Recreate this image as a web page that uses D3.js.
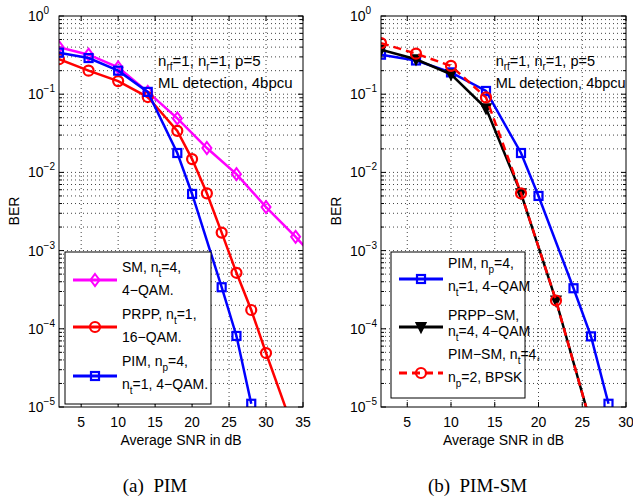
<!DOCTYPE html>
<html>
<head>
<meta charset="utf-8">
<script src="https://cdn.jsdelivr.net/npm/d3@7"></script>
<style>
body { margin: 0; background: #fff; }
text { font-family: "Liberation Sans", Arial, sans-serif; }
</style>
</head>
<body>
<svg width="633" height="500"></svg>
<script>
// ---- data ----
var snrSM = [2, 6, 10, 14, 18, 22, 26, 30, 34, 36];
var berSM = [0.40, 0.32, 0.22, 0.107, 0.049, 0.0205, 0.0095, 0.0036, 0.0015, 0.00093];

var snrPRPP = [2, 6, 10, 14, 18, 20, 22, 24, 26, 28, 30, 34];
var berPRPP = [0.28, 0.20, 0.147, 0.092, 0.034, 0.0148, 0.0054, 0.0017, 0.00052, 0.000174, 0.000049, 0.0000043];

var snrPIM = [2, 6, 10, 14, 18, 20, 24, 26, 28];
var berPIMa = [0.34, 0.29, 0.20, 0.107, 0.0177, 0.0053, 0.00034, 0.000081, 0.000011];
var berPIMb = [0.32, 0.27, 0.19, 0.11, 0.0177, 0.0050, 0.00033, 0.00008, 0.000011];

var snrSM2 = [2, 6, 10, 14, 18, 22, 26];
var berPRPPSM = [0.37, 0.28, 0.18, 0.066, 0.0054, 0.00023, 0.000006];
var berPIMSM = [0.45, 0.33, 0.23, 0.091, 0.0054, 0.00023, 0.000006];

var xTicksA = [5, 10, 15, 20, 25, 30, 35];
var xTicksB = [5, 10, 15, 20, 25, 30];
var yTickExp = [0, -1, -2, -3, -4, -5];

var svg = d3.select("svg");

function zip(xs, ys) {
  return xs.map(function(x, i) { return {x: x, y: ys[i]}; });
}

function marker(g, type, x, y, color) {
  if (type == "diamond") {
    g.append("path").attr("d", "M" + x + "," + (y - 6) + "L" + (x + 4.5) + "," + y + "L" + x + "," + (y + 6) + "L" + (x - 4.5) + "," + y + "Z")
      .attr("fill", "none").attr("stroke", color).attr("stroke-width", 2);
  } else if (type == "circle") {
    g.append("circle").attr("cx", x).attr("cy", y).attr("r", 5)
      .attr("fill", "none").attr("stroke", color).attr("stroke-width", 2.2);
  } else if (type == "square") {
    g.append("rect").attr("x", x - 4).attr("y", y - 4).attr("width", 8).attr("height", 8)
      .attr("fill", "none").attr("stroke", color).attr("stroke-width", 2.2);
  } else if (type == "tri") {
    g.append("path").attr("d", "M" + (x - 4.5) + "," + (y - 4) + "L" + (x + 4.5) + "," + (y - 4) + "L" + x + "," + (y + 5) + "Z")
      .attr("fill", color).attr("stroke", color).attr("stroke-width", 2);
  }
}

function panel(cfg) {
  var x = d3.scaleLinear().domain(cfg.xDomain).range([cfg.left, cfg.right]);
  var y = d3.scaleLog().domain([1e-5, 1]).range([407, 16]);
  var g = svg.append("g");

  // grid
  var minor = [];
  for (var e = -5; e < 0; e++) for (var m = 1; m < 10; m++) minor.push(m * Math.pow(10, e));
  minor.push(1);
  g.selectAll(".gy").data(minor.filter(function(v) { return v > 1e-5 && v < 1; })).enter().append("line")
    .attr("x1", cfg.left).attr("x2", cfg.right)
    .attr("y1", function(d) { return y(d); }).attr("y2", function(d) { return y(d); })
    .attr("stroke", "#444").attr("stroke-width", 1).attr("stroke-dasharray", "1,3");
  g.selectAll(".gx").data(cfg.xTicks.filter(function(v) { return v < cfg.xDomain[1]; })).enter().append("line")
    .attr("x1", function(d) { return x(d); }).attr("x2", function(d) { return x(d); })
    .attr("y1", 16).attr("y2", 407)
    .attr("stroke", "#444").attr("stroke-width", 1).attr("stroke-dasharray", "1,3");

  // ticks (inward, both sides)
  g.selectAll(".ty").data(minor).enter().append("path")
    .attr("d", function(d) {
      var len = Math.abs(Math.log10(d) - Math.round(Math.log10(d))) < 1e-9 ? 5 : 3;
      return "M" + cfg.left + "," + y(d) + "h" + len + "M" + cfg.right + "," + y(d) + "h" + (-len);
    })
    .attr("stroke", "#000").attr("stroke-width", 1);
  g.selectAll(".tx").data(cfg.xTicks).enter().append("path")
    .attr("d", function(d) { return "M" + x(d) + ",407v-5M" + x(d) + ",16v5"; })
    .attr("stroke", "#000").attr("stroke-width", 1);

  // tick labels
  g.selectAll(".lx").data(cfg.xTicks).enter().append("text")
    .attr("x", function(d) { return x(d); }).attr("y", 427)
    .attr("text-anchor", "middle").attr("font-size", 14)
    .text(function(d) { return d; });
  var ly = g.selectAll(".ly").data(yTickExp).enter().append("text")
    .attr("x", cfg.left - 31).attr("y", function(d) { return y(Math.pow(10, d)) + 5; })
    .attr("font-size", 14);
  ly.append("tspan").text("10");
  ly.append("tspan").attr("dy", -7).attr("font-size", 10)
    .text(function(d) { return d == 0 ? "0" : "\u2212" + (-d); });

  // axis labels
  g.append("text").attr("x", (cfg.left + cfg.right) / 2).attr("y", 445)
    .attr("text-anchor", "middle").attr("font-size", 14).text("Average SNR in dB");
  g.append("text").attr("transform", "translate(" + (cfg.left - 40) + ",211) rotate(-90)")
    .attr("text-anchor", "middle").attr("font-size", 14).text("BER");
  g.append("text").attr("x", (cfg.left + cfg.right) / 2 - 26).attr("y", 492)
    .attr("text-anchor", "middle").attr("font-size", 19)
    .style("font-family", "'Liberation Serif', 'Times New Roman', serif")
    .attr("xml:space", "preserve").text(cfg.caption);

  // annotation
  var a1 = g.append("text").attr("x", x(cfg.annotX)).attr("y", 66).attr("font-size", cfg.annotSize);
  a1.append("tspan").text("n");
  a1.append("tspan").attr("dy", 4).attr("font-size", 10).text("rf");
  a1.append("tspan").attr("dy", -4).text("=1, n");
  a1.append("tspan").attr("dy", 4).attr("font-size", 10).text("r");
  a1.append("tspan").attr("dy", -4).text("=1, p=5");
  g.append("text").attr("x", x(cfg.annotX)).attr("y", 88).attr("font-size", cfg.annotSize).text("ML detection, 4bpcu");

  // curves
  var clipId = "clip" + cfg.caption.length;
  svg.append("clipPath").attr("id", clipId).append("rect")
    .attr("x", cfg.left).attr("y", 16).attr("width", cfg.right - cfg.left).attr("height", 391);
  var plot = g.append("g").attr("clip-path", "url(#" + clipId + ")");
  var line = d3.line().x(function(d) { return x(d.x); }).y(function(d) { return y(d.y); });
  cfg.series.forEach(function(s) {
    var pts = zip(s.x, s.y);
    plot.append("path").datum(pts).attr("d", line)
      .attr("fill", "none").attr("stroke", s.color).attr("stroke-width", 2.5)
      .attr("stroke-dasharray", s.dash || null);
    pts.forEach(function(p) {
      if (p.x <= cfg.xDomain[1] && p.y >= 9e-6) marker(plot, s.marker, x(p.x), y(p.y), s.color);
    });
  });

  // box
  g.append("rect").attr("x", cfg.left).attr("y", 16).attr("width", cfg.right - cfg.left).attr("height", 391)
    .attr("fill", "none").attr("stroke", "#000").attr("stroke-width", 1);

  // legend
  var L = cfg.legend;
  var lg = g.append("g");
  lg.append("rect").attr("x", L.x).attr("y", L.y).attr("width", L.w).attr("height", L.h)
    .attr("fill", "#fff").attr("stroke", "#000").attr("stroke-width", 1);
  cfg.series.forEach(function(s, i) {
    var e = L.entries[i];
    lg.append("line").attr("x1", L.x + 8).attr("x2", L.x + 52).attr("y1", e.ly).attr("y2", e.ly)
      .attr("stroke", s.color).attr("stroke-width", 3).attr("stroke-dasharray", s.dash || null);
    marker(lg, s.marker, L.x + 30, e.ly, s.color);
    e.lines.forEach(function(parts, j) {
      var t = lg.append("text").attr("x", L.x + 57).attr("y", e.ty[j]).attr("font-size", 14);
      parts.forEach(function(p) {
        if (typeof p == "string") t.append("tspan").text(p);
        else {
          t.append("tspan").attr("dy", 5).attr("font-size", 10).text(p.sub);
          t.append("tspan").attr("dy", -5).text(p.after);
        }
      });
    });
  });
}

panel({
  left: 59, right: 303, xDomain: [2, 35], xTicks: xTicksA, caption: "(a)  PIM", annotX: 15.4, annotSize: 15,
  series: [
    {x: snrSM, y: berSM, color: "#ff00ff", marker: "diamond"},
    {x: snrPRPP, y: berPRPP, color: "#ff0000", marker: "circle"},
    {x: snrPIM, y: berPIMa, color: "#0000ff", marker: "square"}
  ],
  legend: {x: 65, y: 252, w: 146, h: 152, entries: [
    {ly: 280, ty: [272, 295], lines: [["SM, n", {sub: "t", after: "=4,"}], ["4\u2212QAM."]]},
    {ly: 327, ty: [319, 342], lines: [["PRPP, n", {sub: "t", after: "=1,"}], ["16\u2212QAM."]]},
    {ly: 376, ty: [366, 389], lines: [["PIM, n", {sub: "p", after: "=4,"}], ["n", {sub: "t", after: "=1, 4\u2212QAM."}]]}
  ]}
});

panel({
  left: 381, right: 626, xDomain: [2, 30], xTicks: xTicksB, caption: "(b)  PIM-SM", annotX: 15.1, annotSize: 14.5,
  series: [
    {x: snrPIM, y: berPIMb, color: "#0000ff", marker: "square"},
    {x: snrSM2, y: berPRPPSM, color: "#000000", marker: "tri"},
    {x: snrSM2, y: berPIMSM, color: "#ff0000", marker: "circle", dash: "8,5"}
  ],
  legend: {x: 391, y: 252, w: 134, h: 146, entries: [
    {ly: 279, ty: [268, 291], lines: [["PIM, n", {sub: "p", after: "=4,"}], ["n", {sub: "t", after: "=1, 4\u2212QAM"}]]},
    {ly: 327, ty: [320, 336], lines: [["PRPP\u2212SM,"], ["n", {sub: "t", after: "=4, 4\u2212QAM"}]]},
    {ly: 373, ty: [359, 382], lines: [["PIM\u2212SM, n", {sub: "t", after: "=4,"}], ["n", {sub: "p", after: "=2, BPSK"}]]}
  ]}
});
</script>
</body>
</html>
